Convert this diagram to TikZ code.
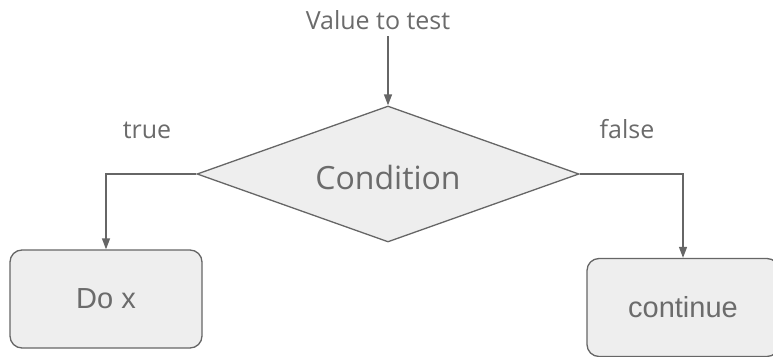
\documentclass[tikz,border=0pt]{standalone}
\usepackage{fontspec}
\newfontfamily\labfont{Open Sans}
\newfontfamily\boxfont{Liberation Sans}
\usetikzlibrary{shapes.geometric,arrows.meta}
\definecolor{ink}{HTML}{666666}
\definecolor{txt}{HTML}{6B6B6B}
\definecolor{shade}{HTML}{EEEEEE}
\tikzset{
  conn/.style={draw=ink, line width=1.3pt, -{Triangle[length=11pt,width=8pt]}},
  decision/.style={diamond, draw=ink, fill=shade, line width=1.3pt, inner sep=0pt,
    minimum width=382pt, minimum height=136pt, aspect=2.81},
  action/.style={rectangle, rounded corners=12pt, draw=ink, fill=shade, line width=1.3pt,
    minimum width=192pt, minimum height=98pt, inner sep=0pt},
  lab/.style={text=txt, font=\labfont\fontsize{25}{30}\selectfont, inner sep=0pt, anchor=base},
  boxtxt/.style={text=txt, font=\boxfont\fontsize{29}{34}\selectfont},
}
\begin{document}
\begin{tikzpicture}[x=1pt,y=-1pt]
\useasboundingbox (0,0) rectangle (773,356);
\node[decision] (cond) at (388,174) {};
\node[lab, font=\labfont\fontsize{32}{38}\selectfont] (condt) at (388,189) {Condition};
\node[lab] (val) at (378,29.5) {Value to test};
\coordinate (vin) at (388,36);
\node[lab] (tr) at (147,138) {true};
\node[lab] (fa) at (627,138) {false};
\node[action, boxtxt] (dox) at (106,299) {Do x};
\node[action, boxtxt] (cont) at (683,307.5) {continue};
\draw[conn] (vin) -- (cond.north);
\draw[conn] (cond.west) -| (dox.north);
\draw[conn] (cond.east) -| (cont.north);
\end{tikzpicture}
\end{document}
